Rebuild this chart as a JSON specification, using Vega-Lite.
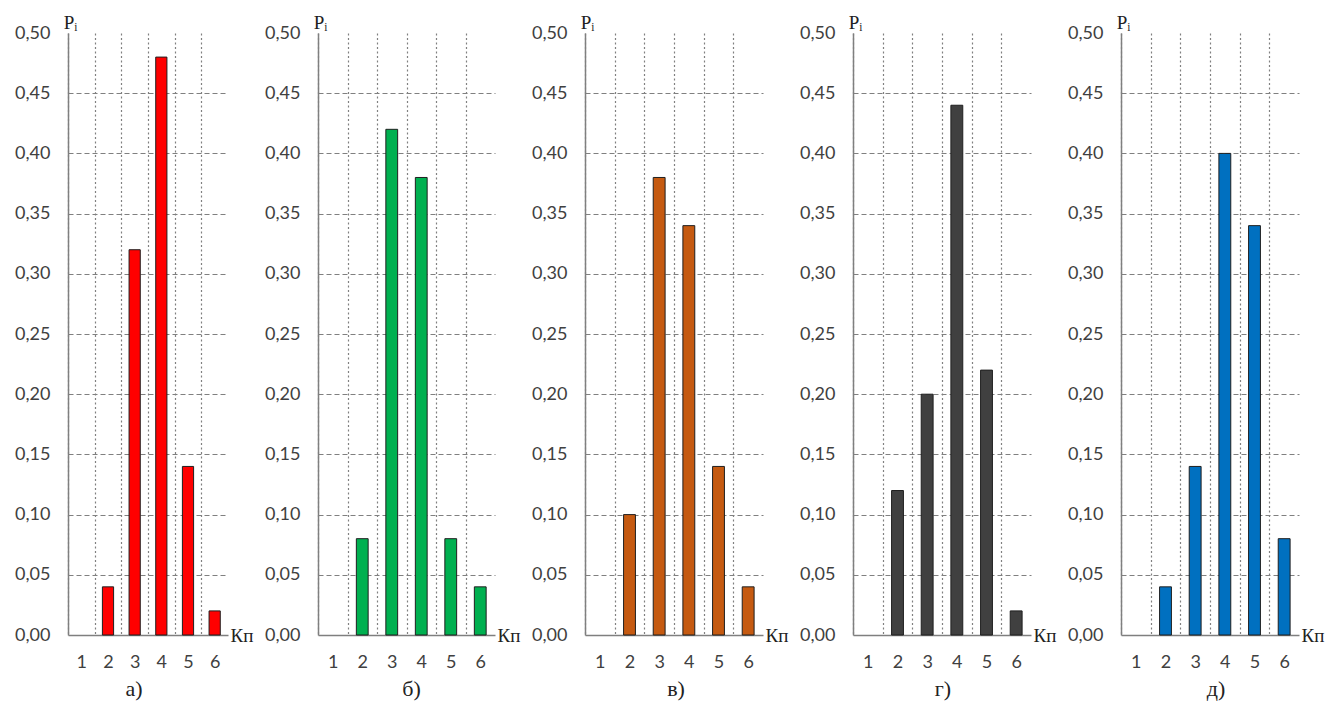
{
  "$schema": "https://vega.github.io/schema/vega-lite/v6.json",
  "background": "white",
  "padding": {"left": 14, "top": 13, "right": 5, "bottom": 5},
  "bounds": "flush",
  "spacing": 90,
  "config": {
    "locale": {"number": {"decimal": ",", "thousands": " ", "grouping": [3], "currency": ["", ""]}},
    "view": {"stroke": null},
    "axisX": {
      "domain": true, "domainColor": "#7f7f7f", "domainWidth": 1.5,
      "ticks": false, "tickBand": "extent",
      "labelFont": "Lato", "labelFontSize": 18, "labelColor": "#404040", "labelPadding": 18, "labelAngle": 0,
      "grid": true, "gridColor": "#808080", "gridDash": [2, 2.5], "gridWidth": 1.2,
      "gridOpacity": {"condition": {"test": "datum.value == 6", "value": 0}, "value": 1},
      "titleFont": "Liberation Serif", "titleFontSize": 19, "titleFontWeight": "normal", "titleColor": "#222222",
      "titleAlign": "left", "titleBaseline": "middle", "titleY": 0, "titleAngle": 0
    },
    "axisY": {
      "domain": true, "domainColor": "#7f7f7f", "domainWidth": 1.5,
      "ticks": false,
      "labelFont": "Lato", "labelFontSize": 18, "labelColor": "#404040", "labelPadding": 18,
      "format": ".2f",
      "grid": true, "gridColor": "#808080", "gridDash": [5, 3], "gridWidth": 1.2,
      "gridOpacity": {"condition": {"test": "datum.value >= 0.49 || datum.value <= 0.001", "value": 0}, "value": 1},
      "titleFont": "Liberation Serif", "titleFontSize": 19, "titleFontWeight": "normal", "titleColor": "#222222",
      "titleAngle": 0, "titleAlign": "center", "titleBaseline": "alphabetic", "titleX": 2, "titleY": -5
    },
    "title": {"font": "Liberation Serif", "fontSize": 22, "fontWeight": "normal", "color": "#222222", "orient": "bottom", "anchor": "middle", "frame": "group", "offset": 8}
  },
  "data": {
    "values": [
      {"panel": "а", "k": 1, "p": 0}, {"panel": "а", "k": 2, "p": 0.04}, {"panel": "а", "k": 3, "p": 0.32},
      {"panel": "а", "k": 4, "p": 0.48}, {"panel": "а", "k": 5, "p": 0.14}, {"panel": "а", "k": 6, "p": 0.02},
      {"panel": "б", "k": 1, "p": 0}, {"panel": "б", "k": 2, "p": 0.08}, {"panel": "б", "k": 3, "p": 0.42},
      {"panel": "б", "k": 4, "p": 0.38}, {"panel": "б", "k": 5, "p": 0.08}, {"panel": "б", "k": 6, "p": 0.04},
      {"panel": "в", "k": 1, "p": 0}, {"panel": "в", "k": 2, "p": 0.10}, {"panel": "в", "k": 3, "p": 0.38},
      {"panel": "в", "k": 4, "p": 0.34}, {"panel": "в", "k": 5, "p": 0.14}, {"panel": "в", "k": 6, "p": 0.04},
      {"panel": "г", "k": 1, "p": 0}, {"panel": "г", "k": 2, "p": 0.12}, {"panel": "г", "k": 3, "p": 0.20},
      {"panel": "г", "k": 4, "p": 0.44}, {"panel": "г", "k": 5, "p": 0.22}, {"panel": "г", "k": 6, "p": 0.02},
      {"panel": "д", "k": 1, "p": 0}, {"panel": "д", "k": 2, "p": 0.04}, {"panel": "д", "k": 3, "p": 0.14},
      {"panel": "д", "k": 4, "p": 0.40}, {"panel": "д", "k": 5, "p": 0.34}, {"panel": "д", "k": 6, "p": 0.08}
    ]
  },
  "hconcat": [
    {
      "width": 160, "height": 602,
      "title": {"text": "а)", "dx": -14},
      "transform": [{"filter": "datum.panel == 'а' && datum.p > 0"}],
      "mark": {"type": "bar", "width": {"band": 0.42}, "fill": "#FF0000", "stroke": "#1f1f1f", "strokeWidth": 1},
      "encoding": {
        "x": {"field": "k", "type": "ordinal", "scale": {"domain": [1, 2, 3, 4, 5, 6], "paddingInner": 0, "paddingOuter": 0},
              "axis": {"title": "Кп", "titleX": 162, "titleFont": "Liberation Serif", "titleFontWeight": "normal"}},
        "y": {"field": "p", "type": "quantitative", "scale": {"domain": [0, 0.5], "nice": false},
              "axis": {"title": "Pᵢ", "titleFont": "Liberation Serif", "titleFontWeight": "normal", "values": [0, 0.05, 0.1, 0.15, 0.2, 0.25, 0.3, 0.35, 0.4, 0.45, 0.5]}}
      }
    },
    {
      "width": 177, "height": 602,
      "title": {"text": "б)", "dx": 5},
      "transform": [{"filter": "datum.panel == 'б' && datum.p > 0"}],
      "mark": {"type": "bar", "width": {"band": 0.4}, "fill": "#00B050", "stroke": "#1f1f1f", "strokeWidth": 1},
      "encoding": {
        "x": {"field": "k", "type": "ordinal", "scale": {"domain": [1, 2, 3, 4, 5, 6], "paddingInner": 0, "paddingOuter": 0},
              "axis": {"title": "Кп", "titleX": 179, "titleFont": "Liberation Serif", "titleFontWeight": "normal"}},
        "y": {"field": "p", "type": "quantitative", "scale": {"domain": [0, 0.5], "nice": false},
              "axis": {"title": "Pᵢ", "titleFont": "Liberation Serif", "titleFontWeight": "normal", "values": [0, 0.05, 0.1, 0.15, 0.2, 0.25, 0.3, 0.35, 0.4, 0.45, 0.5]}}
      }
    },
    {
      "width": 178, "height": 602,
      "title": {"text": "в)", "dx": 2},
      "transform": [{"filter": "datum.panel == 'в' && datum.p > 0"}],
      "mark": {"type": "bar", "width": {"band": 0.4}, "fill": "#C55A11", "stroke": "#1f1f1f", "strokeWidth": 1},
      "encoding": {
        "x": {"field": "k", "type": "ordinal", "scale": {"domain": [1, 2, 3, 4, 5, 6], "paddingInner": 0, "paddingOuter": 0},
              "axis": {"title": "Кп", "titleX": 180, "titleFont": "Liberation Serif", "titleFontWeight": "normal"}},
        "y": {"field": "p", "type": "quantitative", "scale": {"domain": [0, 0.5], "nice": false},
              "axis": {"title": "Pᵢ", "titleFont": "Liberation Serif", "titleFontWeight": "normal", "values": [0, 0.05, 0.1, 0.15, 0.2, 0.25, 0.3, 0.35, 0.4, 0.45, 0.5]}}
      }
    },
    {
      "width": 178, "height": 602,
      "title": {"text": "г)", "dx": 1},
      "transform": [{"filter": "datum.panel == 'г' && datum.p > 0"}],
      "mark": {"type": "bar", "width": {"band": 0.4}, "fill": "#404040", "stroke": "#1f1f1f", "strokeWidth": 1},
      "encoding": {
        "x": {"field": "k", "type": "ordinal", "scale": {"domain": [1, 2, 3, 4, 5, 6], "paddingInner": 0, "paddingOuter": 0},
              "axis": {"title": "Кп", "titleX": 180, "titleFont": "Liberation Serif", "titleFontWeight": "normal"}},
        "y": {"field": "p", "type": "quantitative", "scale": {"domain": [0, 0.5], "nice": false},
              "axis": {"title": "Pᵢ", "titleFont": "Liberation Serif", "titleFontWeight": "normal", "values": [0, 0.05, 0.1, 0.15, 0.2, 0.25, 0.3, 0.35, 0.4, 0.45, 0.5]}}
      }
    },
    {
      "width": 178, "height": 602,
      "title": {"text": "д)", "dx": 6},
      "transform": [{"filter": "datum.panel == 'д' && datum.p > 0"}],
      "mark": {"type": "bar", "width": {"band": 0.4}, "fill": "#0070C0", "stroke": "#1f1f1f", "strokeWidth": 1},
      "encoding": {
        "x": {"field": "k", "type": "ordinal", "scale": {"domain": [1, 2, 3, 4, 5, 6], "paddingInner": 0, "paddingOuter": 0},
              "axis": {"title": "Кп", "titleX": 180, "titleFont": "Liberation Serif", "titleFontWeight": "normal"}},
        "y": {"field": "p", "type": "quantitative", "scale": {"domain": [0, 0.5], "nice": false},
              "axis": {"title": "Pᵢ", "titleFont": "Liberation Serif", "titleFontWeight": "normal", "values": [0, 0.05, 0.1, 0.15, 0.2, 0.25, 0.3, 0.35, 0.4, 0.45, 0.5]}}
      }
    }
  ]
}
